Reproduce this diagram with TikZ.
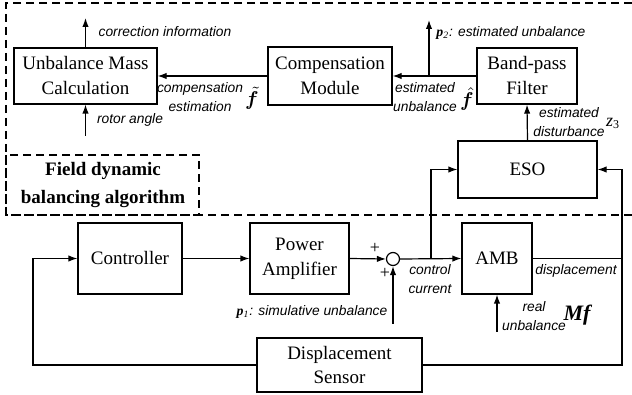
\documentclass[tikz,border=0pt]{standalone}
\usepackage{bm}
\usepackage{fontspec}
\setmainfont{Liberation Serif}
\newfontfamily\lblfamily{Liberation Sans}
\usetikzlibrary{arrows.meta}

\tikzset{
  blockbox/.style={draw, line width=0.6pt, rectangle, inner sep=0pt, align=center,
    font=\fontsize{9.5}{12.5}\selectfont},
  lbl/.style={inner sep=0pt, align=center, font=\lblfamily\itshape\fontsize{6.9}{9.5}\selectfont},
  sym/.style={inner sep=0pt, font=\fontsize{9}{10}\selectfont},
  conn/.style={line width=0.6pt, -{Latex[length=4.5pt,width=3.2pt]}},
  wire/.style={line width=0.6pt},
  areabox/.style={line width=0.8pt, dash pattern=on 4pt off 2.5pt}
}

\begin{document}
\begin{tikzpicture}[x=0.5pt, y=-0.5pt]
        \useasboundingbox (0,0) rectangle (632,395);

        % algorithm area
        \draw[areabox] (632,3) -- (6,3) -- (6,215) -- (632,215);
        \draw[areabox] (6,155) rectangle (199,215);
        \node[align=center, font=\bfseries\fontsize{9.5}{14}\selectfont] (area) at (103,185) {Field dynamic\\balancing algorithm};

        % blocks
        \node[blockbox, minimum width=71.5pt, minimum height=28pt] (umc) at (85.5,76) {Unbalance Mass\\Calculation};
        \node[blockbox, minimum width=62pt, minimum height=29pt] (comp) at (330,76) {Compensation\\Module};
        \node[blockbox, minimum width=50pt, minimum height=28pt] (bpf) at (527,76) {Band-pass\\Filter};
        \node[blockbox, minimum width=69.5pt, minimum height=28.5pt] (eso) at (527.5,169.5) {ESO};
        \node[blockbox, minimum width=52pt, minimum height=35.5pt] (ctrl) at (130,258.5) {Controller};
        \node[blockbox, minimum width=49.5pt, minimum height=35.5pt] (pa) at (299.5,258.5) {Power\\Amplifier};
        \node[draw, line width=0.6pt, circle, minimum size=6.5pt, inner sep=0pt] (sum) at (393,259) {};
        \node[blockbox, minimum width=35pt, minimum height=35.5pt] (amb) at (497,258.5) {AMB};
        \node[blockbox, minimum width=82.5pt, minimum height=27pt] (ds) at (339.5,365) {Displacement\\Sensor};

        % free ends
        \coordinate (corr) at (85.5,18);
        \coordinate (rot) at (85.5,136);
        \coordinate (brp) at (429,76);
        \coordinate (p2) at (429,20);
        \coordinate (brc) at (431,258.5);
        \coordinate (bre) at (622,258.5);
        \coordinate (p1) at (393,324);
        \coordinate (real) at (497,332);
        \coordinate (fb) at (33,365);

        % upper connectors
        \draw[conn] (umc.north) -- (corr);
        \draw[conn] (rot) -- (umc.south);
        \draw[conn] (comp.west) -- (umc.east);
        \draw[conn] (bpf.west) -- (comp.east);
        \draw[conn] (brp) -- (p2);
        \draw[conn] (eso.north) -- (bpf.south);

        % lower connectors
        \draw[conn] (ctrl.east) -- (pa.west);
        \draw[conn] (pa.east) -- (sum.west);
        \draw[conn] (sum.east) -- (amb.west);
        \draw[conn] (p1) -- (sum.south);
        \draw[conn] (real) -- (amb.south);
        \draw[conn] (brc) |- (eso.west);
        \draw[wire] (amb.east) -- (bre) |- (ds.east);
        \draw[conn] (bre) |- (eso.east);
        \draw[conn] (ds.west) -- (fb) |- (ctrl.west);

        % labels
        \node[lbl] (lcorr) at (165,32) {correction information};
        \node[lbl] (lrot) at (130,120) {rotor angle};
        \node[lbl] (lcomp) at (200,97) {compensation\\estimation};
        \node[sym, font=\fontsize{10}{11}\selectfont] (ft) at (252,98) {$\bm{\tilde{f}}$};
        \node[lbl] (lest) at (425,97) {estimated\\unbalance};
        \node[sym, font=\fontsize{10}{11}\selectfont] (fh) at (467,99) {$\bm{\hat{f}}$};
        \node[lbl, anchor=west] (lp2) at (436,33) {{\rmfamily\upshape\textbf{\textit{p}}\textit{\textsubscript{2}}}: estimated unbalance};
        \node[lbl] (ldist) at (569,122) {estimated\\disturbance};
        \node[sym] (z3) at (613,123) {\textit{z}\textsubscript{3}};
        \node[lbl] (lcur) at (430,279) {control\\current};
        \node[lbl] (ldisp) at (576,271) {displacement};
        \node[lbl] (lreal) at (534,316) {real\\unbalance};
        \node[sym, font=\fontsize{11}{12}\selectfont] (mf) at (578,315) {\textbf{\textit{Mf}}};
        \node[lbl] (lp1) at (312,312) {{\rmfamily\upshape\textbf{\textit{p}}\textit{\textsubscript{1}}}: simulative unbalance};
        \node[sym] (plus1) at (375,248) {+};
        \node[sym] (plus2) at (385,273) {+};
    \end{tikzpicture}
\end{document}
